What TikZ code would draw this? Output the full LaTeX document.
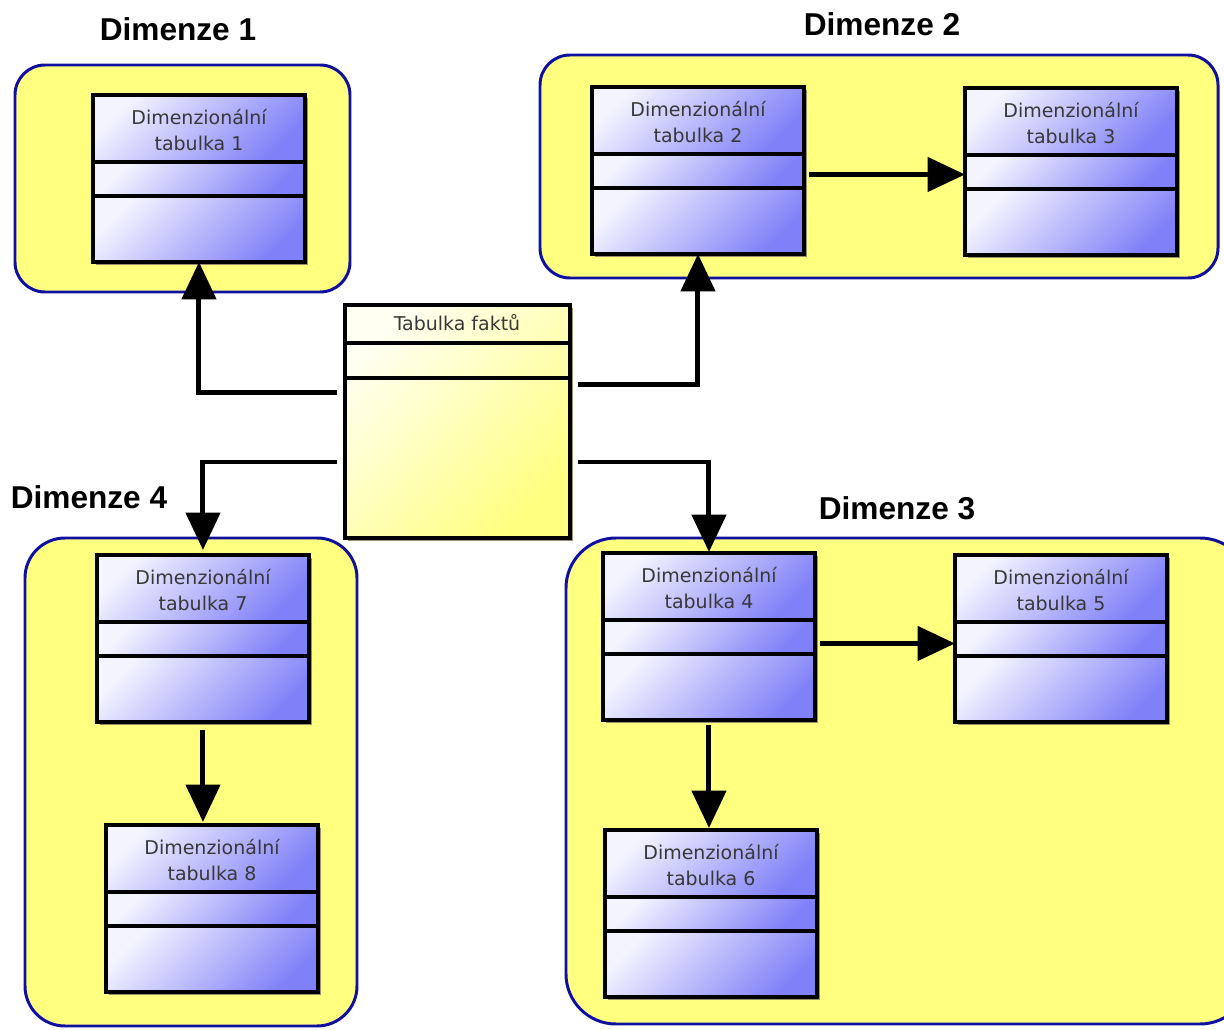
\documentclass[tikz,border=0pt]{standalone}
\usepackage{fontspec}
\setmainfont{Liberation Sans}
\newfontfamily\boxfont{DejaVu Sans}
\usepackage{tikz}
\usetikzlibrary{arrows.meta}

\definecolor{zluta}{HTML}{FFFF80}
\definecolor{okraj}{HTML}{1010A0}
\definecolor{modraA}{HTML}{F4F4FF}
\definecolor{modraB}{HTML}{8080F8}
\definecolor{faktA}{HTML}{FFFFF2}
\definecolor{faktB}{HTML}{FFFF80}
\definecolor{stin}{HTML}{9A9070}
\definecolor{textseda}{HTML}{383838}

\tikzset{
  modra/.style={top color=modraA, bottom color=modraB, shading angle=45},
  tab/.style={draw, line width=2.3pt, anchor=north west, inner sep=0pt, outer sep=0pt,
    minimum width=4.24cm, minimum height=3.34cm},
  delic/.style={line width=2.1pt},
  tabtext/.style={font=\boxfont\fontsize{10.8}{14.6}\selectfont, text=textseda,
    align=center, anchor=north, inner sep=0pt},
  tabulka/.pic={
    \fill[stin] (3,3) rectangle (215,170);
    \shade[modra] (0,0) rectangle (212,67);
    \shade[modra] (0,67) rectangle (212,101);
    \shade[modra] (0,101) rectangle (212,167);
    \node[tab] (-box) at (0,0) {};
    \draw[delic] (0,67) -- (212,67);
    \draw[delic] (0,101) -- (212,101);
    \node[tabtext] (-text) at (106,14) {#1};
  }
}

\begin{document}
\begin{tikzpicture}[x=0.02cm, y=-0.02cm,
    skupina/.style={draw=okraj, line width=1.7pt, fill=zluta, rounded corners=0.8cm},
    nadpis/.style={font=\bfseries\fontsize{18}{20}\selectfont, inner sep=0pt},
    spoj/.style={line width=0.1cm, -{Triangle[length=0.75cm, width=0.68cm]}}]
  \useasboundingbox (0,0) rectangle (1224,1030);
  \clip (0,0) rectangle (1224,1030);

  % Skupiny
  \draw[skupina, rounded corners=0.6cm] (15,65) rectangle (350,292);
  \draw[skupina, rounded corners=0.6cm] (540,55) rectangle (1218,278);
  \draw[skupina] (25,538) rectangle (357,1026);
  \draw[skupina, rounded corners=1cm] (566,538) rectangle (1250,1024);

  \node[nadpis] (n1) at (178,29) {Dimenze 1};
  \node[nadpis] (n2) at (882,24) {Dimenze 2};
  \node[nadpis] (n3) at (897,508) {Dimenze 3};
  \node[nadpis] (n4) at (89,497) {Dimenze 4};

  % Tabulky
  \pic (t1) at (93,95) {tabulka={Dimenzionální\\tabulka 1}};
  \pic (t2) at (592,87) {tabulka={Dimenzionální\\tabulka 2}};
  \pic (t3) at (965,88) {tabulka={Dimenzionální\\tabulka 3}};
  \pic (t4) at (603,553) {tabulka={Dimenzionální\\tabulka 4}};
  \pic (t5) at (955,555) {tabulka={Dimenzionální\\tabulka 5}};
  \pic (t6) at (605,830) {tabulka={Dimenzionální\\tabulka 6}};
  \pic (t7) at (97,555) {tabulka={Dimenzionální\\tabulka 7}};
  \pic (t8) at (106,825) {tabulka={Dimenzionální\\tabulka 8}};

  % Tabulka faktu
  \fill[stin] (348,308) rectangle (573,541);
  \node[tab, minimum width=4.5cm, minimum height=4.66cm,
    top color=faktA, bottom color=faktB, shading angle=45] (fakt) at (345,305) {};
  \draw[delic] (345,343) -- (570,343);
  \draw[delic] (345,378) -- (570,378);
  \node[tabtext] (fakttext) at (457,314) {Tabulka faktů};

  % Spoje
  \coordinate (p23) at ([yshift=-0.08cm]t2-box.east);
  \coordinate (p45) at ([yshift=-0.14cm]t4-box.east);
  \draw[spoj] ([shift={(-8,88)}]fakt.north west) -| (t1-box.south);
  \draw[spoj] ([shift={(8,80)}]fakt.north east) -| (t2-box.south);
  \draw[spoj, shorten >=0.1cm] ([shift={(-8,157)}]fakt.north west) -| (t7-box.north);
  \draw[spoj, shorten >=0.02cm] ([shift={(8,157)}]fakt.north east) -| (t4-box.north);
  \draw[spoj, shorten <=0.1cm] (p23) -- (p23 -| t3-box.west);
  \draw[spoj, shorten <=0.1cm] (p45) -- (p45 -| t5-box.west);
  \draw[spoj, shorten <=0.16cm, shorten >=0.06cm] (t7-box.south) -- (t7-box.south |- t8-box.north);
  \draw[spoj, shorten <=0.1cm, shorten >=0.04cm] (t4-box.south) -- (t4-box.south |- t6-box.north);
\end{tikzpicture}
\end{document}
